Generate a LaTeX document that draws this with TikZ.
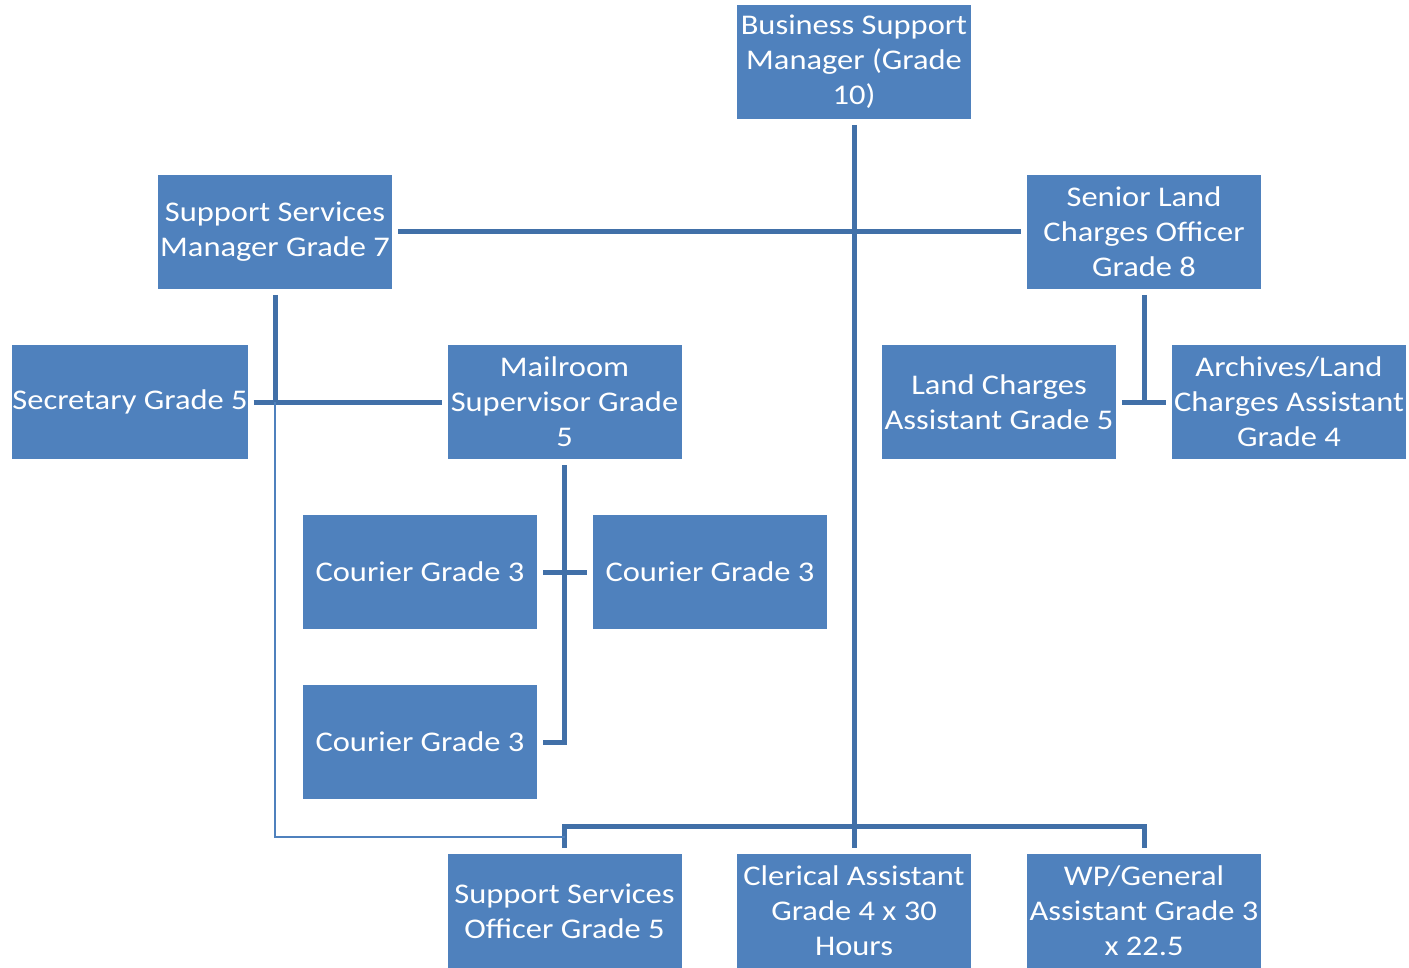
\documentclass[tikz,border=0pt]{standalone}
\usepackage{fontspec}
\setmainfont{Carlito}[FakeStretch=1.14]
\definecolor{boxblue}{HTML}{4F81BD}
\definecolor{lineblue}{HTML}{4170A8}

\begin{document}
\begin{tikzpicture}[
        x=1pt, y=-1pt,
        every node/.style={fill=boxblue, text=white, minimum width=234pt, minimum height=114pt,
                            inner sep=0pt, outer sep=0pt, align=center,
                            font=\fontsize{28.5}{35}\selectfont},
        link/.style={draw=lineblue, line width=5pt},
        thinlink/.style={draw=boxblue, line width=2pt},
        ]
    \useasboundingbox (0,0) rectangle (1409,968);

    \node (bsm)   at (854,62)    {Business Support\\Manager (Grade\\10)};
    \node (ssm)   at (275,232)   {Support Services\\Manager Grade 7};
    \node (slco)  at (1144,232)  {Senior Land\\Charges Officer\\Grade 8};
    \node (sec)   at (130,402)   {Secretary Grade 5};
    \node (mail)  at (564.5,402) {Mailroom\\Supervisor Grade\\5};
    \node (lca)   at (999,402)   {Land Charges\\Assistant Grade 5};
    \node (arch)  at (1289,402)  {Archives/Land\\Charges Assistant\\Grade 4};
    \node (cour1) at (420,572)   {Courier Grade 3};
    \node (cour2) at (710,572)   {Courier Grade 3};
    \node (cour3) at (420,742)   {Courier Grade 3};
    \node (sso)   at (564.5,911) {Support Services\\Officer Grade 5};
    \node (cler)  at (854,911)   {Clerical Assistant\\Grade 4 x 30\\Hours};
    \node (wp)    at (1144,911)  {WP/General\\Assistant Grade 3\\x 22.5};

    % top trunk and bottom bus
    \draw[link, shorten <=6pt, shorten >=6pt] (bsm.south) -- (cler.north);
    \draw[link] ([yshift=6pt]sso.north) |- ([yshift=28pt]cler.north) -| ([yshift=6pt]wp.north);
    \draw[link, shorten <=6pt, shorten >=6pt] (ssm.east) -- (slco.west);

    % left branch
    \draw[link, shorten <=6pt] (ssm.south) -- (ssm.south |- sec.east);
    \draw[link, shorten <=6pt, shorten >=6pt] (sec.east) -- (mail.west);
    \draw[thinlink] (ssm.south |- sec.east) |- ([yshift=17pt]sso.north);

    % couriers
    \draw[link, shorten <=6pt] (mail.south) |- ([xshift=6pt]cour3.east);
    \draw[link, shorten <=6pt, shorten >=6pt] (cour1.east) -- (cour2.west);

    % right branch
    \draw[link, shorten <=6pt] (slco.south) -- (slco.south |- lca.east);
    \draw[link, shorten <=6pt, shorten >=6pt] (lca.east) -- (arch.west);
\end{tikzpicture}
\end{document}
